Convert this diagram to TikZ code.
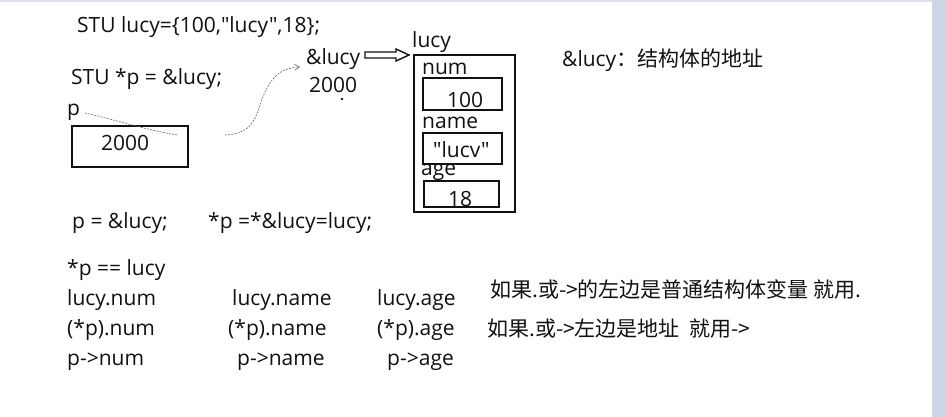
\documentclass[tikz,border=0pt]{standalone}
\usepackage{fontspec}
\setmainfont{Open Sans}[Ligatures=TeXOff]
\newfontfamily\cjk{Noto Sans CJK SC}[Ligatures=TeXOff]
\usetikzlibrary{arrows.meta,calc}
\definecolor{stripcol}{HTML}{CCD5E3}
\definecolor{topcol}{HTML}{DDE2EA}
\definecolor{inkcol}{HTML}{111111}
\begin{document}
\begin{tikzpicture}[x=1pt,y=-1pt,
  txt/.style={anchor=base west, inner sep=0pt, text=inkcol, font=\fontsize{21}{25}\selectfont},
  box/.style={draw=inkcol, line width=1.9pt, anchor=north west, inner sep=0pt},
  sketch/.style={draw=black!60, line width=0.6pt, dash pattern=on 2pt off 1.2pt}]
\useasboundingbox (0,0) rectangle (946,417);
\fill[white] (0,0) rectangle (946,417);
\fill[stripcol] (932,0) rectangle (946,417);
\fill[topcol] (0,0) rectangle (932,2);

% top-left declarations
\node[txt] (l1) at (77,33) {STU lucy=\{100,"lucy",18\};};
\node[txt] (l2) at (71,85) {STU *p = \&lucy;};
\node[txt] (plabel) at (67,116) {p};
\node[box, minimum width=116pt, minimum height=41pt] (pbox) at (71,125) {};
\node[txt] (pval) at (101,151) {2000};

% address of lucy
\node[txt] (addr) at (306,65) {\&lucy};
\node[txt] (addrv) at (309,93) {2000};
\fill[inkcol] (342,99) circle (1.3);

% struct lucy
\node[txt] (lucylbl) at (412,48) {lucy};
\node[box, minimum width=101pt, minimum height=157pt] (outer) at (413,54) {};
\node[txt] (numlbl) at (422,75) {num};
\node[box, minimum width=79pt, minimum height=32pt] (numbox) at (422,77) {};
\node[txt] (numval) at (447,108) {100};
\node[txt] (namelbl) at (422,129) {name};
\node[box, minimum width=79pt, minimum height=31pt] (namebox) at (422,132) {};
\node[txt] (nameval) at (433,158) {"lucv"};
\node[txt] (agelbl) at (421,176) {age};
\node[box, minimum width=75pt, minimum height=26pt] (agebox) at (423,180) {};
\node[txt] (ageval) at (448,207) {18};

% hollow arrow from &lucy to the struct
\coordinate (arrS) at (365,55);
\coordinate (arrE) at (409,55);
\draw[inkcol, line width=1.4pt, fill=white, line join=miter]
  ($(arrS)+(0,-3)$) -- (396,52) -- (396,49) -- (arrE) -- (396,61) -- (396,58) -- ($(arrS)+(0,3)$) -- cycle;

% hand-drawn sketch strokes
\coordinate (c1a) at (85,113);
\coordinate (c1b) at (178,135);
\draw[sketch] (c1a) .. controls (120,121) and (150,131) .. (c1b);
\coordinate (c2a) at (225,135);
\coordinate (c2b) at (300,67);
\draw[sketch, -{Straight Barb[length=5pt,width=6pt]}] (c2a) .. controls (258,134) and (256,110) .. (265,92)
  .. controls (274,73) and (284,68) .. (c2b);

% right notes
\node[txt] (note1) at (562,67) {\&lucy{\cjk ：结构体的地址}};

% bottom lines
\node[txt] (b1) at (72,229) {p = \&lucy;};
\node[txt] (b2) at (208,229) {*p =*\&lucy=lucy;};
\node[txt] (b3) at (67,275) {*p == lucy};
\node[txt] (r1a) at (67,305) {lucy.num};
\node[txt] (r1b) at (232,305) {lucy.name};
\node[txt] (r1c) at (377,305) {lucy.age};
\node[txt] (r2a) at (67,335) {(*p).num};
\node[txt] (r2b) at (228,335) {(*p).name};
\node[txt] (r2c) at (377,335) {(*p).age};
\node[txt] (r3a) at (67,365) {p->num};
\node[txt] (r3b) at (237,365) {p->name};
\node[txt] (r3c) at (387,365) {p->age};

\node[txt] (rule1) at (490,297) {\cjk 如果.或->的左边是普通结构体变量 就用.};
\node[txt] (rule2) at (487,336) {\cjk 如果.或->左边是地址\ \ 就用->};
\end{tikzpicture}
\end{document}
